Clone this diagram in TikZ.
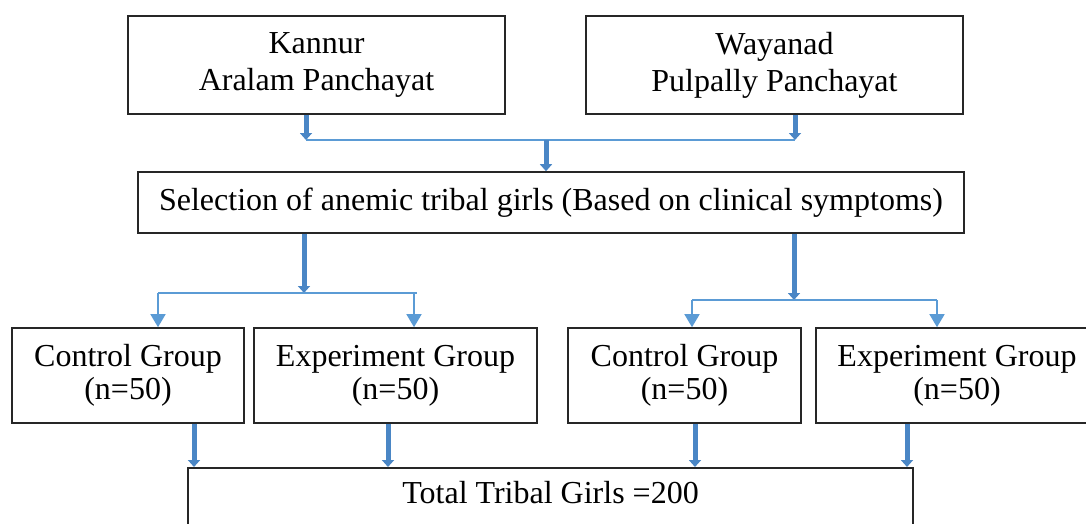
\documentclass[tikz,border=0pt]{standalone}
\usepackage{fontspec}
\setmainfont{Liberation Serif}
\usetikzlibrary{arrows.meta, calc}
\definecolor{flowblue}{HTML}{5B9BD5}
\definecolor{flowbluedark}{HTML}{4A86C5}
\definecolor{boxline}{HTML}{262626}

\begin{document}
\begin{tikzpicture}[
    x=1pt, y=-1pt,
    box/.style={
        draw=boxline,
        line width=1.6pt,
        align=center,
        inner sep=4pt,
        font=\fontsize{32}{37}\selectfont
    },
    groupbox/.style={
        box,
        minimum height=95pt,
        font=\fontsize{32}{33}\selectfont
    },
    thickarrow/.style={
        draw=flowbluedark,
        line width=5pt,
        -{Triangle[width=12pt,length=7pt]}
    },
    thinarrow/.style={
        draw=flowblue,
        line width=1.6pt,
        -{Triangle[width=15pt,length=13pt]}
    },
    joinline/.style={
        draw=flowblue,
        line width=2pt
    }
]
\useasboundingbox (0,0) rectangle (1086,524);
\clip (0,0) rectangle (1086,524);

% Districts
\node[box, minimum width=377pt, minimum height=98pt] (kannur) at (316.5, 65) {Kannur\\Aralam Panchayat};
\node[box, minimum width=377pt, minimum height=98pt] (wayanad) at (774.5, 65) {Wayanad\\Pulpally Panchayat};

% Selection
\node[box, minimum width=826pt, minimum height=61pt] (select) at (551, 202.5) {Selection of anemic tribal girls (Based on clinical symptoms)};

% Groups
\node[groupbox, minimum width=232pt] (ctrlA) at (128, 375.5) {Control Group\\(n=50)};
\node[groupbox, minimum width=283pt] (expA) at (395.5, 375.5) {Experiment Group\\(n=50)};
\node[groupbox, minimum width=233pt] (ctrlB) at (684.5, 375.5) {Control Group\\(n=50)};
\node[groupbox, minimum width=282pt] (expB) at (957, 375.5) {Experiment Group\\(n=50)};

% Total
\node[box, anchor=north, minimum width=725pt, text height=32pt, text depth=59pt] (total) at (550.5, 467) {Total Tribal Girls =200};

% Top join
\coordinate (jtl) at (306, 140);
\coordinate (jtr) at (795, 140);
\coordinate (jtm) at (546, 140);
\draw[thickarrow] (kannur.south -| jtl) -- (jtl);
\draw[thickarrow] (wayanad.south -| jtr) -- (jtr);
\draw[joinline] (jtl) -- (jtr);
\draw[thickarrow] (jtm) -- (jtm |- select.north);

% Left split
\coordinate (jl) at (304, 293);
\coordinate (jl1) at (158, 293);
\coordinate (jl2) at (414, 293);
\draw[thickarrow] (select.south -| jl) -- (jl);
\draw[joinline] (jl1) -- (417, 293);
\draw[thinarrow] (jl1) -- (jl1 |- ctrlA.north);
\draw[thinarrow] (jl2) -- (jl2 |- expA.north);

% Right split
\coordinate (jr) at (794, 300);
\coordinate (jr1) at (692, 300);
\coordinate (jr2) at (937, 300);
\draw[thickarrow] (select.south -| jr) -- (jr);
\draw[joinline] (jr1) -- (jr2);
\draw[thinarrow] (jr1) -- (jr1 |- ctrlB.north);
\draw[thinarrow] (jr2) -- (jr2 |- expB.north);

% Into total
\foreach \n/\x in {ctrlA/194, expA/388, ctrlB/695, expB/907}
    \draw[thickarrow] (\n.south -| \x,0) -- (total.north -| \x,0);

\end{tikzpicture}
\end{document}
